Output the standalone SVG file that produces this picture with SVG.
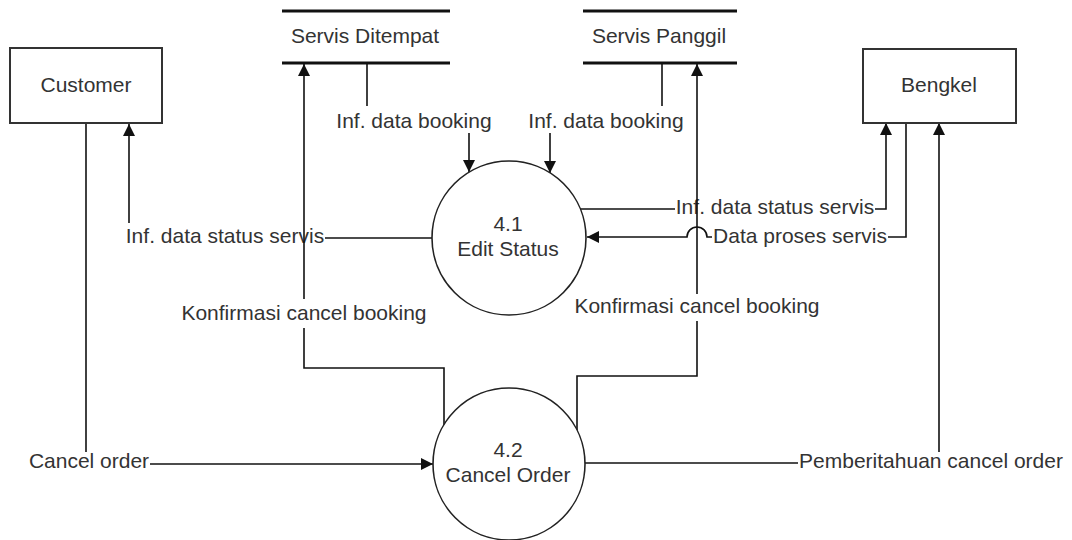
<svg xmlns="http://www.w3.org/2000/svg" width="1072" height="540" viewBox="0 0 1072 540">
  <style>
    text { font-family: "Liberation Sans", Arial, sans-serif; font-size: 21px; fill: #333; text-anchor: middle; }
    .entity { fill: #fff; stroke: #333; stroke-width: 2; }
    .process { fill: #fff; stroke: #222; stroke-width: 1.6; }
    .store { fill: none; stroke: #111; stroke-width: 3; }
    .flow { fill: none; stroke: #111; stroke-width: 1.6; }
    .flow.arrow { marker-end: url(#arrowhead); }
  </style>
  <defs>
    <marker id="arrowhead" markerUnits="userSpaceOnUse" markerWidth="14" markerHeight="12" refX="12" refY="6" orient="auto">
      <path d="M0,0 L12,6 L0,12 Z" fill="#111"/>
    </marker>
  </defs>

  <rect width="1072" height="540" fill="#fff"/>

  <!-- data flows -->
  <g id="connectors">
    <!-- Customer -> 4.2 : Cancel order -->
    <path class="flow" d="M86,124 V452"/>
    <text x="89" y="468">Cancel order</text>
    <path class="flow arrow" d="M150,464 H433"/>

    <!-- 4.2 -> Bengkel : Pemberitahuan cancel order -->
    <path class="flow" d="M585,463 H798"/>
    <text x="931" y="468">Pemberitahuan cancel order</text>
    <path class="flow arrow" d="M939,452 V123"/>

    <!-- 4.1 -> Customer : Inf. data status servis -->
    <path class="flow" d="M432,238 H325"/>
    <text x="225" y="243">Inf. data status servis</text>
    <path class="flow arrow" d="M129,223 V124"/>

    <!-- 4.1 -> Bengkel : Inf. data status servis -->
    <path class="flow" d="M580,209 H675"/>
    <text x="775" y="214">Inf. data status servis</text>
    <path class="flow arrow" d="M875,209 H886 V123"/>

    <!-- Bengkel -> 4.1 : Data proses servis (hops over the vertical flow) -->
    <path class="flow" d="M906,123 V237 H888"/>
    <text x="800" y="243">Data proses servis</text>
    <path class="flow arrow" d="M712,237 H707 A10,10 0 0 0 687,237 H587"/>

    <!-- Servis Ditempat -> 4.1 : Inf. data booking -->
    <path class="flow" d="M367,63 V106"/>
    <text x="414" y="128">Inf. data booking</text>
    <path class="flow arrow" d="M469,133 V172"/>

    <!-- Servis Panggil -> 4.1 : Inf. data booking -->
    <path class="flow" d="M662,63 V106"/>
    <text x="606" y="128">Inf. data booking</text>
    <path class="flow arrow" d="M550,133 V173"/>

    <!-- 4.2 -> Servis Ditempat : Konfirmasi cancel booking -->
    <path class="flow" d="M444,425 V368 H304 V328"/>
    <text x="304" y="320">Konfirmasi cancel booking</text>
    <path class="flow arrow" d="M304,299 V64"/>

    <!-- 4.2 -> Servis Panggil : Konfirmasi cancel booking -->
    <path class="flow" d="M577,430 V376 H697 V321"/>
    <text x="697" y="313">Konfirmasi cancel booking</text>
    <path class="flow arrow" d="M697,294 V64"/>
  </g>

  <!-- external entities -->
  <g id="customer">
    <rect class="entity" x="10" y="48" width="152" height="75"/>
    <text x="86" y="92">Customer</text>
  </g>
  <g id="bengkel">
    <rect class="entity" x="863" y="49" width="153" height="74"/>
    <text x="939" y="92">Bengkel</text>
  </g>

  <!-- data stores -->
  <g id="servis-ditempat">
    <path class="store" d="M282,11 H450 M282,63 H450"/>
    <text x="365" y="43">Servis Ditempat</text>
  </g>
  <g id="servis-panggil">
    <path class="store" d="M583,11 H737 M583,63 H737"/>
    <text x="659" y="43">Servis Panggil</text>
  </g>

  <!-- processes -->
  <g id="edit-status">
    <circle class="process" cx="509" cy="238" r="77"/>
    <text x="508" y="231">4.1</text>
    <text x="508" y="256">Edit Status</text>
  </g>
  <g id="cancel-order">
    <circle class="process" cx="509" cy="464" r="76"/>
    <text x="508" y="457">4.2</text>
    <text x="508" y="482">Cancel Order</text>
  </g>
</svg>
